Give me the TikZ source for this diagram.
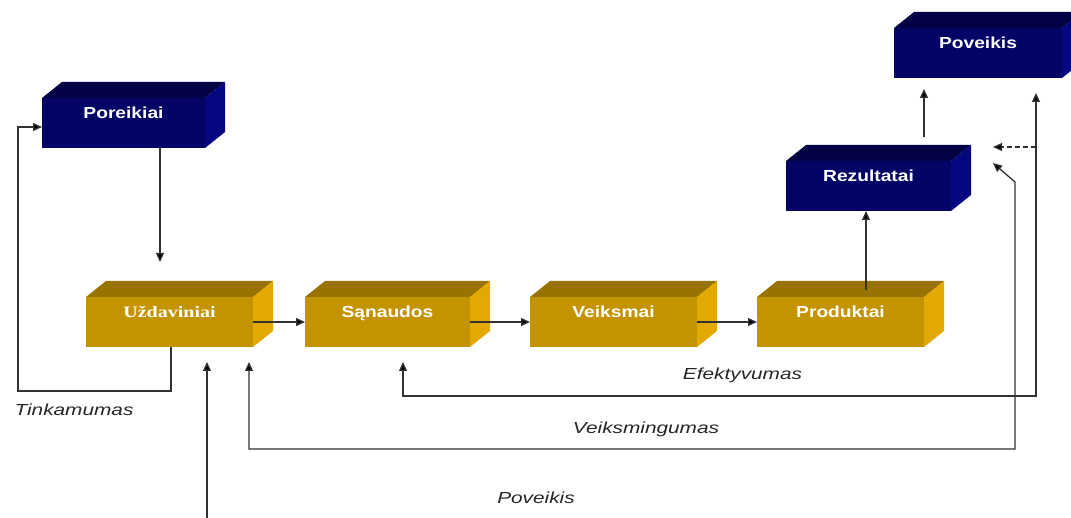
\documentclass[tikz,border=0pt]{standalone}
\usepackage{fontspec}
\setmainfont{Liberation Sans}
\newfontfamily\boxsans[FakeStretch=1.2]{Liberation Sans}
\newfontfamily\boxserif[FakeStretch=1.25]{Liberation Serif}
\newfontfamily\notesans[FakeStretch=1.3]{Liberation Sans}
\usetikzlibrary{arrows.meta,calc}

\definecolor{navyfront}{RGB}{4,4,102}
\definecolor{navytop}{RGB}{2,2,68}
\definecolor{navyside}{RGB}{6,6,128}
\definecolor{goldfront}{RGB}{196,147,0}
\definecolor{goldtop}{RGB}{153,115,0}
\definecolor{goldside}{RGB}{226,170,0}
\definecolor{wire}{RGB}{50,50,50}

\tikzset{
  face/.style={rectangle, minimum height=50pt, inner sep=0pt, outer sep=0pt, draw=none},
  navyface/.style={face, fill=navyfront},
  goldface/.style={face, fill=goldfront},
  boxtext/.style={anchor=base, text=white, font=\boxsans\bfseries\fontsize{16}{18}\selectfont},
  serifbox/.style={anchor=base, text=white, font=\boxserif\bfseries\fontsize{16}{18}\selectfont},
  note/.style={anchor=base, text=black!85, font=\notesans\itshape\fontsize{16}{18}\selectfont},
  wireline/.style={draw=wire, line width=1.3pt},
  tip/.style={Triangle[length=9pt,width=8pt,fill=black]},
  arr/.style={wireline, -{Triangle[length=9pt,width=8pt,fill=black]}},
  arrboth/.style={wireline, {Triangle[length=9pt,width=8pt,fill=black]}-{Triangle[length=9pt,width=8pt,fill=black]}},
}

\begin{document}
\begin{tikzpicture}[x=1pt,y=-1pt]
\clip (0,0) rectangle (1071,518);
\fill[white] (0,0) rectangle (1071,518);

% front faces of the blocks
\node[navyface, minimum width=163pt] (por) at (123.5,123) {};
\node[goldface, minimum width=167pt] (uzd) at (169.5,322) {};
\node[goldface, minimum width=165pt] (san) at (387.5,322) {};
\node[goldface, minimum width=167pt] (vei) at (613.5,322) {};
\node[goldface, minimum width=167pt] (pro) at (840.5,322) {};
\node[navyface, minimum width=165pt] (rez) at (868.5,186) {};
\node[navyface, minimum width=168pt] (pov) at (978,53) {};

% top and side faces
\foreach \b/\t/\s in {por/navytop/navyside, uzd/goldtop/goldside, san/goldtop/goldside,
                      vei/goldtop/goldside, pro/goldtop/goldside, rez/navytop/navyside,
                      pov/navytop/navyside}{
  \fill[\t] (\b.north west) -- ($(\b.north west)+(20,-16)$) -- ($(\b.north east)+(20,-16)$) -- (\b.north east) -- cycle;
  \fill[\s] (\b.north east) -- ($(\b.north east)+(20,-16)$) -- ($(\b.south east)+(20,-16)$) -- (\b.south east) -- cycle;
}

% block labels
\node[boxtext] (por-l) at ([yshift=-21pt]por.north) {Poreikiai};
\node[serifbox] (uzd-l) at ([yshift=-21pt]uzd.north) {Uždaviniai};
\node[boxtext] (san-l) at ([yshift=-21pt]san.north) {Sąnaudos};
\node[boxtext] (vei-l) at ([yshift=-21pt]vei.north) {Veiksmai};
\node[boxtext] (pro-l) at ([yshift=-21pt]pro.north) {Produktai};
\node[boxtext] (rez-l) at ([yshift=-21pt]rez.north) {Rezultatai};
\node[boxtext] (pov-l) at ([yshift=-21pt]pov.north) {Poveikis};

% free ends of the connectors
\coordinate (porout) at (160,148);
\coordinate (uzdin) at (160,262);
\coordinate (proout) at (866,290);
\coordinate (rezout) at (924,137);
\coordinate (povin) at (924,89);
\coordinate (povin2) at (1036,93);
\coordinate (sanin) at (403,362);
\coordinate (uzdin2) at (249,362);
\coordinate (uzdin3) at (207,362);
\coordinate (bottom) at (207,518);
\coordinate (rezin) at (993,147);
\coordinate (rezin2) at (993,163);
\coordinate (dashsrc) at (1036,147);
\coordinate (tinkout) at (171,347);

% main chain
\draw[arr] (porout) -- (uzdin);
\draw[arr] (uzd.east) -- (san.west);
\draw[arr] (san.east) -- (vei.west);
\draw[arr] (vei.east) -- (pro.west);
\draw[arr] (proout) -- (rez.south -| proout);
\draw[arr] (rezout) -- (povin);

% feedback loops
\draw[arr] (tinkout) -- (171,391) -- (18,391) -- (18,127) -- (por.west |- 0,127);
\draw[arrboth] (sanin) -- (403,396) -- (1036,396) -- (povin2);
\draw[arrboth] (uzdin2) -- (249,449) -- (1015,449) -- (1015,182) -- (rezin2);
\draw[arr, dash pattern=on 5pt off 3pt] (dashsrc) -- (rezin);
\draw[arr] (bottom) -- (uzdin3);

% loop labels
\node[note, anchor=base west] (tink) at (11,416) {Tinkamumas};
\node[note] (efek) at (742.5,380) {Efektyvumas};
\node[note] (veik) at (646,433) {Veiksmingumas};
\node[note] (povk) at (536,503) {Poveikis};
\end{tikzpicture}
\end{document}
